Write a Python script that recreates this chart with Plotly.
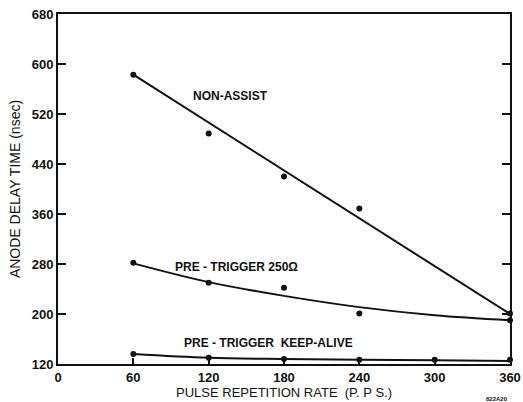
import plotly.graph_objects as go

rate = [60, 120, 180, 240, 360]
non_assist = [583, 489, 420, 369, 201]
non_assist_fit = [583, 200]
non_assist_fit_x = [60, 360]

pre_rate = [60, 120, 180, 240, 360]
pre_250 = [282, 250, 242, 201, 190]
pre_fit_x = [60, 120, 180, 240, 300, 360]
pre_fit = [281, 251, 229, 211, 198, 190]

ka_rate = [60, 120, 180, 240, 300, 360]
keep_alive = [136, 130, 128, 127, 127, 127]
ka_fit = [136, 130, 128, 127, 126, 125]

x_ticks = [0, 60, 120, 180, 240, 300, 360]
y_ticks = [120, 200, 280, 360, 440, 520, 600, 680]

FONT = "Liberation Sans"
fig = go.Figure()
black = "#111111"

fig.add_trace(go.Scatter(x=non_assist_fit_x, y=non_assist_fit, mode="lines",
                         line=dict(color=black, width=2), cliponaxis=False))
fig.add_trace(go.Scatter(x=pre_fit_x, y=pre_fit, mode="lines",
                         line=dict(color=black, width=2, shape="spline"), cliponaxis=False))
fig.add_trace(go.Scatter(x=ka_rate, y=ka_fit, mode="lines",
                         line=dict(color=black, width=2, shape="spline"), cliponaxis=False))
for xs, ys in [(rate, non_assist), (pre_rate, pre_250), (ka_rate, keep_alive)]:
    fig.add_trace(go.Scatter(x=xs, y=ys, mode="markers",
                             marker=dict(color=black, size=6), cliponaxis=False))

ann_font = dict(family=FONT, size=12, color=black)
fig.add_annotation(x=137, y=549, text="<b>NON-ASSIST</b>", showarrow=False, font=ann_font)
fig.add_annotation(x=142, y=275, text="<b>PRE - TRIGGER 250Ω</b>", showarrow=False, font=ann_font)
fig.add_annotation(x=168, y=154, text="<b>PRE - TRIGGER  KEEP-ALIVE</b>", showarrow=False, font=ann_font)
fig.add_annotation(xref="paper", yref="paper", x=1.0, y=-0.085, text="<b>822A20</b>",
                   showarrow=False, font=dict(family=FONT, size=6, color=black),
                   xanchor="right", yanchor="top")

fig.update_layout(
    width=523, height=402, showlegend=False,
    margin=dict(l=58, r=13, t=14, b=38),
    paper_bgcolor="white", plot_bgcolor="white",
    font=dict(family=FONT, color=black, size=12),
)
fig.update_xaxes(range=[0, 360], tickvals=x_ticks, ticks="inside", ticklen=6,
                 tickwidth=1.5, tickcolor=black, showgrid=False, zeroline=False,
                 showline=True, linecolor=black, linewidth=2, mirror=True,
                 automargin=False,
                 tickfont=dict(size=13, family=FONT, weight="bold"),
                 title=dict(text="PULSE REPETITION RATE  (P. P S.)", standoff=4,
                            font=dict(size=13, family=FONT)))
fig.update_yaxes(range=[120, 680], tickvals=y_ticks, ticks="inside", ticklen=8,
                 tickwidth=1.5, tickcolor=black, showgrid=False, zeroline=False,
                 showline=True, linecolor=black, linewidth=2, mirror="ticks",
                 automargin=False,
                 tickfont=dict(size=13, family=FONT, weight="bold"),
                 title=dict(text="ANODE DELAY TIME (nsec)", standoff=8,
                            font=dict(size=14, family=FONT)))
fig.write_html("out.html")
